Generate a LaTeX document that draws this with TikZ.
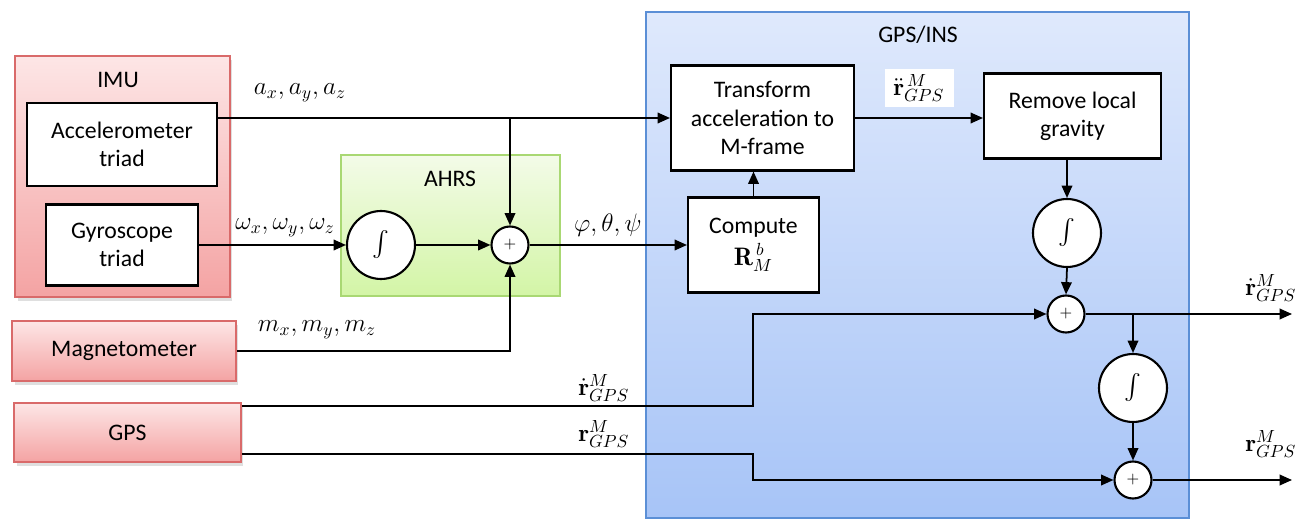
\documentclass[tikz,border=0pt]{standalone}
\usepackage{amsmath, amssymb}
\usepackage{fontspec}
\setsansfont{Carlito}
\usetikzlibrary{arrows.meta, calc, shadows}

\definecolor{redtop}{HTML}{FDE6E6}
\definecolor{redbot}{HTML}{F4A3A3}
\definecolor{redline}{HTML}{D96A6A}
\definecolor{greentop}{HTML}{F3FBE8}
\definecolor{greenbot}{HTML}{D3F5A6}
\definecolor{greenline}{HTML}{A9D873}
\definecolor{bluetop}{HTML}{DFE9FC}
\definecolor{bluebot}{HTML}{A7C4F7}
\definecolor{blueline}{HTML}{5B8FD6}

\tikzset{
  sig/.style={line width=1pt, -{Triangle[length=7pt,width=6pt]}},
  blk/.style={draw, line width=1.2pt, fill=white, align=center,
    font=\sffamily\fontsize{13.5}{16}\selectfont, inner sep=2pt},
  redblk/.style={draw=redline, line width=1pt, top color=redtop, bottom color=redbot,
    align=center, font=\sffamily\fontsize{13.5}{16}\selectfont,
    drop shadow={opacity=0.25, shadow xshift=0.05cm, shadow yshift=-0.08cm}},
  grptitle/.style={font=\sffamily\fontsize{13.5}{16}\selectfont},
  sumnode/.style={circle, draw, line width=1.2pt, fill=white, minimum size=0.74cm,
    inner sep=0pt, font=\small},
  intnode/.style={circle, draw, line width=1.2pt, fill=white, minimum size=1.36cm,
    inner sep=0pt, font=\Large},
  siglabel/.style={font=\fontsize{14}{16}\selectfont, inner sep=1pt}
}

\begin{document}
\begin{tikzpicture}[x=0.02cm, y=-0.02cm]
\useasboundingbox (0,0) rectangle (1296,520);

% Group boxes
\node[redblk, minimum width=4.3cm, minimum height=4.82cm] (imu) at (122.5,176.5) {};
\node[grptitle] (imutitle) at (118,80) {IMU};
\node[draw=greenline, line width=1pt, top color=greentop, bottom color=greenbot,
  minimum width=4.38cm, minimum height=2.82cm] (ahrs) at (450.5,225.5) {};
\node[grptitle] (ahrstitle) at (450,179) {AHRS};
\node[draw=blueline, line width=1pt, top color=bluetop, bottom color=bluebot,
  minimum width=10.86cm, minimum height=10.12cm] (ins) at (917.5,265) {};
\node[grptitle] (institle) at (918,35) {GPS/INS};

% Sensors
\node[blk, minimum width=3.8cm, minimum height=1.66cm] (accel) at (122,144.5) {Accelerometer\\triad};
\node[blk, minimum width=3.04cm, minimum height=1.62cm] (gyro) at (122,245) {Gyroscope\\triad};
\node[redblk, minimum width=4.48cm, minimum height=1.2cm] (mag) at (124,351) {Magnetometer};
\node[redblk, minimum width=4.54cm, minimum height=1.18cm] (gps) at (127.5,432.5) {GPS};

% AHRS blocks
\node[intnode] (int1) at (381,245) {$\int$};
\node[sumnode] (plus1) at (510,245) {+};

% GPS/INS blocks
\node[blk, minimum width=3.66cm, minimum height=2.1cm] (tr) at (762.5,118) {Transform\\acceleration to\\M-frame};
\node[blk, minimum width=3.54cm, minimum height=1.7cm] (rm) at (1072.5,116) {Remove local\\gravity};
\node[blk, minimum width=2.62cm, minimum height=1.9cm] (cmp) at (753.5,245) {Compute\\[2pt]{\Large$\mathbf{R}^{\,b}_{M}$}};
\node[intnode] (int2) at (1067,233) {$\int$};
\node[sumnode] (plus2) at (1066,314) {+};
\node[intnode] (int3) at (1133,388) {$\int$};
\node[sumnode] (plus3) at (1133,480) {+};

% Turning points and outputs
\coordinate (g1) at ($(gps.north east)+(0,4)$);
\coordinate (g2) at ($(gps.south east)+(0,-9)$);
\coordinate (kx) at (753,0);
\coordinate (out1) at (1292,0);

% Connectors
\draw[sig] (accel.east |- tr.west) -- (tr.west);
\draw[sig] (plus1.north |- tr.west) -- (plus1.north);
\draw[sig] (gyro.east) -- (int1.west);
\draw[sig] (int1.east) -- (plus1.west);
\draw[sig] (mag.east) -| (plus1.south);
\draw[sig] (plus1.east) -- (cmp.west);
\draw[sig] (cmp.north) -- (cmp.north |- tr.south);
\draw[sig] (tr.east) -- (tr.east -| rm.west);
\draw[sig] (int2.north |- rm.south) -- (int2.north);
\draw[sig] (int2.south) -- (plus2.north);
\draw[sig] (g1) -- (g1 -| kx) -- (kx |- plus2) -- (plus2.west);
\draw[sig] (g2) -- (g2 -| kx) -- (kx |- plus3) -- (plus3.west);
\draw[sig] (plus2.east) -- (plus2 -| out1);
\draw[sig] (int3.north |- plus2) -- (int3.north);
\draw[sig] (int3.south) -- (plus3.north);
\draw[sig] (plus3.east) -- (plus3 -| out1);

% Labels
\node[siglabel] (la) at (300,93) {$a_x, a_y, a_z$};
\node[siglabel] (lw) at (285,228) {$\omega_x, \omega_y, \omega_z$};
\node[siglabel] (lm) at (317,330) {$m_x, m_y, m_z$};
\node[siglabel] (lang) at (608,225) {$\varphi,\theta,\psi$};
\node[siglabel] (lrd) at (604,388) {$\dot{\mathbf{r}}^M_{GPS}$};
\node[siglabel] (lr) at (604,434) {$\mathbf{r}^M_{GPS}$};
\node[siglabel, fill=white, minimum width=1.38cm, minimum height=0.76cm] (lrdd) at (919,88) {$\ddot{\mathbf{r}}^{\,M}_{GPS}$};
\node[siglabel] (lout1) at (1271,288) {$\dot{\mathbf{r}}^M_{GPS}$};
\node[siglabel] (lout2) at (1271,444) {$\mathbf{r}^M_{GPS}$};
\end{tikzpicture}
\end{document}
